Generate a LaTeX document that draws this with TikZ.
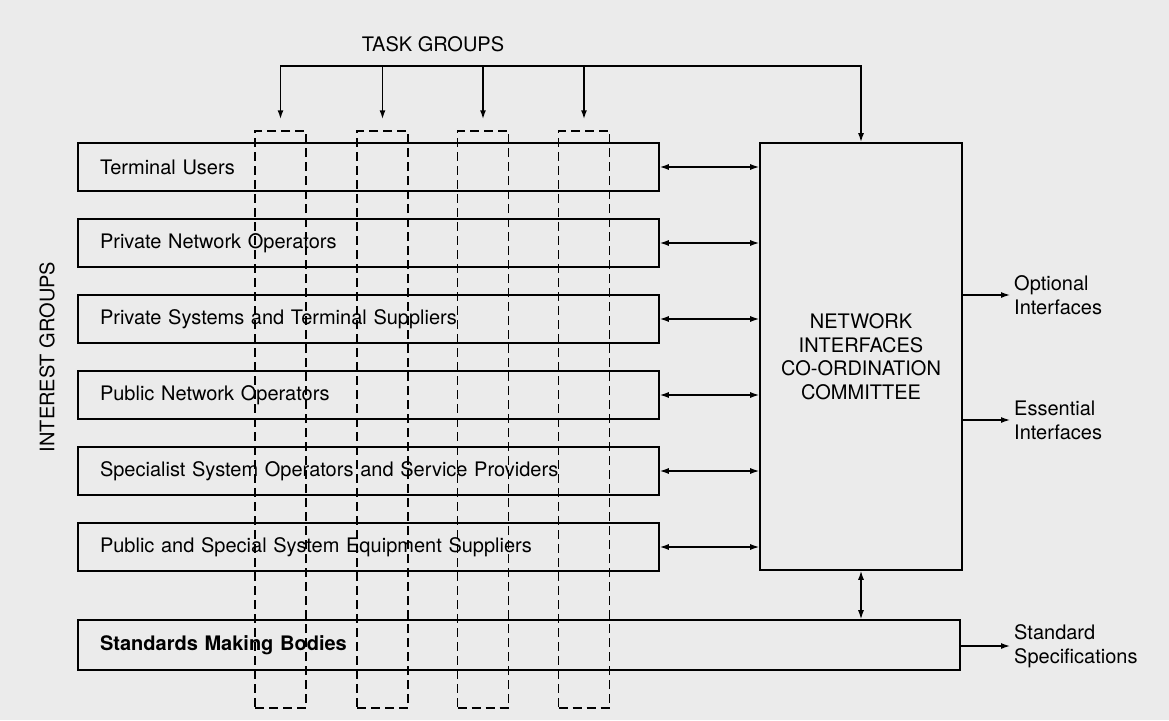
\documentclass[tikz,border=0pt]{standalone}
\usepackage{fontspec}
\setmainfont{TeX Gyre Heros}
\usetikzlibrary{arrows.meta}

\tikzset{
  igbox/.style={draw, line width=1.6pt, minimum width=581pt, minimum height=48pt,
    text width=537pt, inner xsep=22pt, align=left},
  taskbox/.style={draw, line width=1.5pt, dash pattern=on 9pt off 5pt,
    minimum width=51pt, minimum height=577pt},
  outlbl/.style={anchor=west, align=left, inner sep=4pt},
  biarrow/.style={{Latex[length=9pt,width=6pt]}-{Latex[length=9pt,width=6pt]}, line width=1.3pt},
  oarrow/.style={-{Latex[length=9pt,width=6pt]}, line width=1.3pt},
}

\begin{document}
\begin{tikzpicture}[x=1pt, y=-1pt, every node/.style={font=\fontsize{20pt}{24pt}\selectfont}]
  % background
  \fill[black!8] (0,0) rectangle (1169,720);
  \useasboundingbox (0,0) rectangle (1169,720);

  % interest groups
  \foreach \nm/\txt [count=\i from 0] in {tu/Terminal Users,
      pno/Private Network Operators,
      pst/Private Systems and Terminal Suppliers,
      pubno/Public Network Operators,
      sso/Specialist System Operators and Service Providers,
      pse/Public and Special System Equipment Suppliers} {
    \node[igbox] (\nm) at (368.5, {167+76*\i}) {\txt};
  }
  \node[igbox, minimum width=882pt, minimum height=50pt, text width=838pt,
    font=\fontsize{20pt}{24pt}\selectfont\bfseries] (smb) at (519,645) {Standards Making Bodies};
  \node[rotate=90] (iglbl) at (47,357) {INTEREST GROUPS};

  % committee
  \node[draw, line width=1.6pt, minimum width=202pt, minimum height=427pt, align=center,
    font=\fontsize{20pt}{23.5pt}\selectfont] (nicc) at (861,356.5)
    {NETWORK\\INTERFACES\\CO-ORDINATION\\COMMITTEE};

  % task groups
  \foreach \x [count=\i] in {280.5,382.5,483,584} {
    \node[taskbox] (tg\i) at (\x,419.5) {};
  }
  \node (tglbl) at (433,44) {TASK GROUPS};
  \coordinate (bus) at (0,66);
  \draw[biarrow, line width=1.6pt, shorten <=11pt] (tg1.north) |- (bus -| nicc.north) -- (nicc.north);
  \foreach \i in {2,3,4} {
    \draw[oarrow, line width=1.6pt, shorten >=11pt] (tg\i.north |- bus) -- (tg\i.north);
  }

  % links to committee
  \foreach \nm in {tu,pno,pst,pubno,sso,pse} {
    \draw[biarrow] (\nm.east) -- (\nm.east -| nicc.west);
  }
  \draw[biarrow] (nicc.south) -- (nicc.south |- smb.north);

  % outputs
  \node[outlbl] (opt) at (1010,295) {Optional\\Interfaces};
  \node[outlbl] (ess) at (1010,420) {Essential\\Interfaces};
  \node[outlbl] (std) at (1010,646) {Standard\\Specifications};
  \draw[oarrow] (nicc.east |- opt.west) -- (opt.west);
  \draw[oarrow] (nicc.east |- ess.west) -- (ess.west);
  \draw[oarrow] (smb.east |- std.west) -- (std.west);
\end{tikzpicture}
\end{document}
